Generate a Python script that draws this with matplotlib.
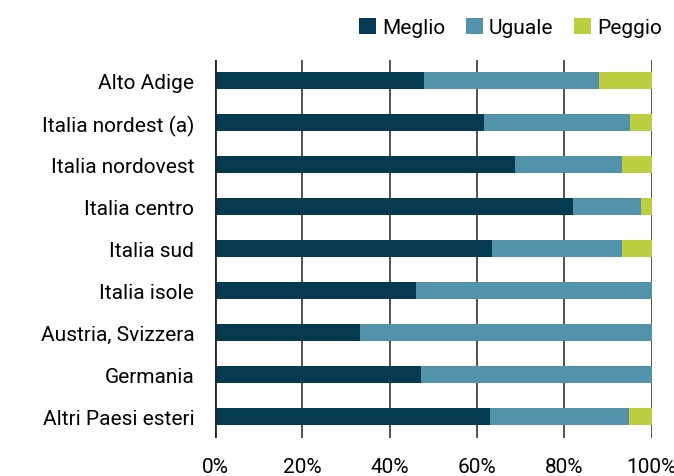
import matplotlib
matplotlib.use('Agg')
import matplotlib.pyplot as plt
import numpy as np
from matplotlib.ticker import PercentFormatter

plt.rcParams['font.family'] = ['Roboto', 'DejaVu Sans']

categories = ['Alto Adige', 'Italia nordest (a)', 'Italia nordovest', 'Italia centro',
              'Italia sud', 'Italia isole', 'Austria, Svizzera', 'Germania',
              'Altri Paesi esteri']
meglio = [47.9, 61.5, 68.8, 81.9, 63.5, 46.0, 33.2, 47.2, 63.0]
uguale = [40.0, 33.6, 24.4, 15.6, 29.7, 54.0, 66.8, 52.8, 31.8]
peggio = [12.1, 4.9, 6.8, 2.5, 6.8, 0.0, 0.0, 0.0, 5.2]

series = [('Meglio', meglio, '#043a4f'),
          ('Uguale', uguale, '#5292aa'),
          ('Peggio', peggio, '#bdce41')]

fig = plt.figure(figsize=(6.74, 4.77), dpi=100)
ax = fig.add_axes([0.319, 0.080, 0.648, 0.793])

y = np.arange(len(categories))
left = np.zeros(len(categories))
for name, vals, col in series:
    vals = np.array(vals)
    ax.barh(y, vals, left=left, height=0.4, color=col, label=name, zorder=3)
    left += vals

ax.set_xlim(0, 100)
ax.set_ylim(len(categories) - 0.5, -0.5)
ax.set_yticks(y)
ax.set_yticklabels(categories, fontsize=15)
ax.set_xticks([0, 20, 40, 60, 80, 100])
ax.xaxis.set_major_formatter(PercentFormatter(decimals=0))
ax.tick_params(axis='x', labelsize=15, length=0, pad=14)
ax.tick_params(axis='y', length=0, pad=15)
for s in ax.spines.values():
    s.set_visible(False)
ax.grid(axis='x', color='#333333', linewidth=1.2, zorder=0)
ax.axvline(0, color='#222222', linewidth=2, zorder=4)

fig.legend(loc='upper right', bbox_to_anchor=(1.01, 1.0), ncol=3, frameon=False,
           fontsize=15, handlelength=0.8, handleheight=0.8, handletextpad=0.3,
           columnspacing=1.0)

fig.savefig('out.png', dpi=100, facecolor='white')
